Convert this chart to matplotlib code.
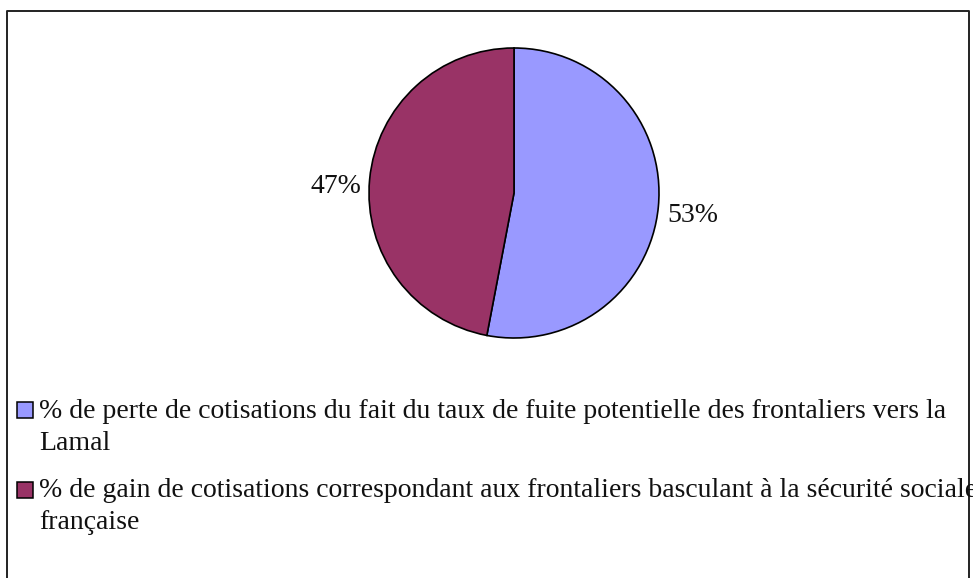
import matplotlib.pyplot as plt
from matplotlib.patches import Rectangle
from matplotlib.lines import Line2D

# données du graphique
categories = [
    "% de perte de cotisations du fait du taux de fuite potentielle des frontaliers vers la\nLamal",
    "% de gain de cotisations correspondant aux frontaliers basculant à la sécurité sociale\nfrançaise",
]
parts = [53, 47]
labels_pct = ["53%", "47%"]
couleurs = ["#9999FF", "#993366"]

W, H = 973, 578
plt.rcParams['font.family'] = ['Liberation Serif', 'DejaVu Serif']
fig = plt.figure(figsize=(W / 100, H / 100), dpi=100)

def fx(px):
    return px / W

def fy(py):
    return 1 - py / H

# cadre (le bas sort de l'image)
cadre = Line2D([fx(6.5), fx(6.5), fx(968.5), fx(968.5)],
               [fy(H + 5), fy(10.5), fy(10.5), fy(H + 5)],
               transform=fig.transFigure, color='#222222', lw=1.4)
fig.add_artist(cadre)

# camembert
cx, cy, r = 514, 193, 145
ax = fig.add_axes([fx(cx - r), fy(cy + r), 2 * r / W, 2 * r / H])
wedges, texts = ax.pie(parts, labels=labels_pct, colors=couleurs, startangle=90,
                       counterclock=False, labeldistance=1.06,
                       wedgeprops=dict(edgecolor='black', linewidth=1.2),
                       textprops=dict(fontsize=20, color='#111111'))
for t in texts:
    t.set_y(t.get_position()[1] - 0.055)
ax.set_xlim(-1, 1)
ax.set_ylim(-1, 1)
ax.set_aspect('equal')
ax.axis('off')

# légende à la main (marqueur aligné sur la première ligne)
premieres = [418, 498]
dernieres = [450, 529]
for lab, col, b1, b2 in zip(categories, couleurs, premieres, dernieres):
    fig.add_artist(Rectangle((fx(16.5), fy(b1)), 16 / W, 16 / H, transform=fig.transFigure,
                             facecolor=col, edgecolor='black', lw=1.1))
    fig.text(fx(39), fy(b2), lab, fontsize=20, va='baseline', ha='left',
             linespacing=1.39, color='#111111')

fig.savefig("out.png", dpi=100)
